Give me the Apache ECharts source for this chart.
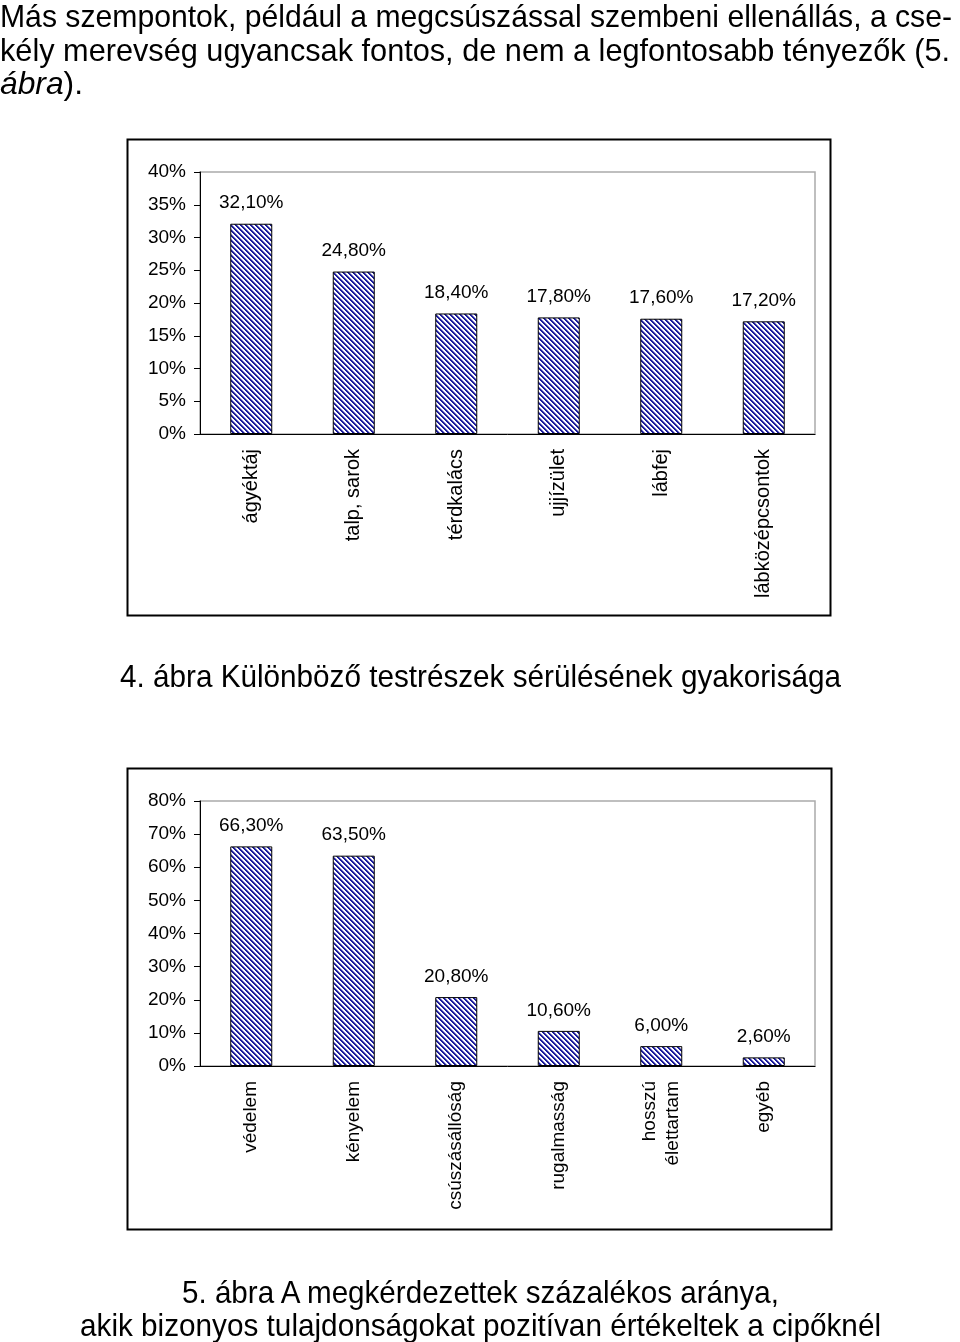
<!DOCTYPE html>
<html><head><meta charset="utf-8">
<script src="https://cdn.jsdelivr.net/npm/echarts@6/dist/echarts.min.js"></script>
<style>
html,body{margin:0;padding:0;background:#fff;width:960px;height:1342px;overflow:hidden}
#c{position:absolute;left:0;top:0;width:960px;height:1342px}
.t{position:absolute;white-space:nowrap;font-family:'Liberation Sans',Arial,sans-serif;font-size:32px;line-height:34px;color:#000;transform-origin:0 0;display:inline-block}
</style></head><body>
<div id="c"></div>
<div class="t" data-w="952" style="left:0;top:-1px">Más szempontok, például a megcsúszással szembeni ellenállás, a cse-</div>
<div class="t" data-w="950" style="left:0;top:33px">kély merevség ugyancsak fontos, de nem a legfontosabb tényezők (5.</div>
<div class="t" data-w="83" style="left:0;top:66px"><i>ábra</i>).</div>
<div class="t" data-w="721" style="left:120px;top:659px">4. ábra Különböző testrészek sérülésének gyakorisága</div>
<div class="t" data-w="597" style="left:182px;top:1275px">5. ábra A megkérdezettek százalékos aránya,</div>
<div class="t" data-w="801" style="left:80px;top:1308px">akik bizonyos tulajdonságokat pozitívan értékeltek a cipőknél</div>
<script>
// ---- data ----
const cats1 = ['ágyéktáj', 'talp, sarok', 'térdkalács', 'ujjízület', 'lábfej', 'lábközépcsontok'];
const vals1 = [32.1, 24.8, 18.4, 17.8, 17.6, 17.2];
const yMax1 = 40, yStep1 = 5;
const cats2 = ['védelem', 'kényelem', 'csúszásállóság', 'rugalmasság', 'hosszú\nélettartam', 'egyéb'];
const vals2 = [66.3, 63.5, 20.8, 10.6, 6.0, 2.6];
const yMax2 = 80, yStep2 = 10;

// fit text lines
document.querySelectorAll('.t').forEach(el => {
  const w = el.getBoundingClientRect().width;
  const target = +el.dataset.w;
  el.style.transform = 'scaleX(' + (target / w) + ')';
});

const F = "'Liberation Sans', Arial, sans-serif";
function pattern() {
  const n = 5;
  const c = document.createElement('canvas');
  c.width = n; c.height = n;
  const g = c.getContext('2d');
  g.fillStyle = '#fff'; g.fillRect(0, 0, n, n);
  g.fillStyle = '#1c1c9c';
  for (let y = 0; y < n; y++) { g.fillRect(y, y, 1, 1); g.fillRect((y + 1) % n, y, 1, 1); }
  g.fillStyle = 'rgba(28,28,156,0.5)';
  for (let y = 0; y < n; y++) { g.fillRect((y + 2) % n, y, 1, 1); }
  return c;
}
const pat = pattern();
const fmt = p => p.value.toFixed(2).replace('.', ',') + '%';

function xAx(i, cats, fs) {
  return {
    gridIndex: i, type: 'category', data: cats,
    axisLine: { lineStyle: { color: '#000', width: 1 } },
    axisTick: { length: 7, lineStyle: { color: '#000' } },
    axisLabel: { rotate: 90, margin: 15, fontSize: fs, color: '#000', fontFamily: F, interval: 0, lineHeight: 23 }
  };
}
function yAx(i, max, step) {
  return {
    gridIndex: i, type: 'value', min: 0, max: max, interval: step,
    axisLine: { show: true, lineStyle: { color: '#000', width: 1 } },
    axisTick: { show: true, length: 6, lineStyle: { color: '#000' } },
    splitLine: { show: false },
    axisLabel: { formatter: '{value}%', fontSize: 19, color: '#000', fontFamily: F, margin: 14 }
  };
}
function ser(i, vals) {
  return {
    type: 'bar', xAxisIndex: i, yAxisIndex: i, data: vals, barWidth: 42,
    itemStyle: { color: { image: pat, repeat: 'repeat' }, borderColor: '#000', borderWidth: 1 },
    label: { show: true, position: 'top', distance: 11, formatter: fmt, fontSize: 19, color: '#000', fontFamily: F }
  };
}

const chart = echarts.init(document.getElementById('c'), null, { renderer: 'canvas' });
chart.setOption({
  animation: false,
  backgroundColor: '#fff',
  grid: [
    { left: 200, top: 172, width: 615, height: 262, show: true, borderColor: '#aaa', borderWidth: 1.5 },
    { left: 200, top: 801, width: 615, height: 265, show: true, borderColor: '#aaa', borderWidth: 1.5 }
  ],
  xAxis: [xAx(0, cats1, 20), xAx(1, cats2, 19)],
  yAxis: [yAx(0, yMax1, yStep1), yAx(1, yMax2, yStep2)],
  series: [ser(0, vals1), ser(1, vals2)],
  graphic: [
    { type: 'rect', shape: { x: 127.5, y: 139.5, width: 703, height: 476 }, style: { fill: 'none', stroke: '#000', lineWidth: 2 }, z: 100 },
    { type: 'rect', shape: { x: 127.5, y: 768.5, width: 704, height: 461 }, style: { fill: 'none', stroke: '#000', lineWidth: 2 }, z: 100 }
  ]
});
</script>
</body></html>
